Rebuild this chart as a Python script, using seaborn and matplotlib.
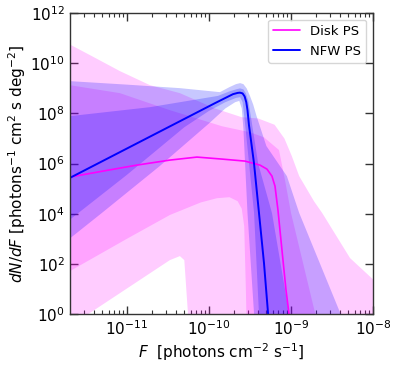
import numpy as np
import pandas as pd
import matplotlib
matplotlib.use("Agg")
import matplotlib.pyplot as plt
import matplotlib.ticker as mticker
import seaborn as sns

# ---- data (log10 F, log10 dN/dF) ----
disk_med_logF = [-11.70, -11.293, -10.878, -10.476, -10.146, -9.841, -9.561, -9.378, -9.293, -9.232,
                 -9.195, -9.159, -9.110, -9.061, -9.024, -9.00]
disk_med_logN = [5.46, 5.70, 5.94, 6.14, 6.26, 6.18, 6.10, 5.94, 5.78, 5.50,
                 5.10, 4.15, 2.55, 0.96, 0.0, -1.0]

nfw_med_logF = [-11.70, -9.927, -9.805, -9.707, -9.650, -9.622, -9.590, -9.565, -9.545, -9.530, -9.512,
                -9.451, -9.390, -9.329, -9.280, -9.268]
nfw_med_logN = [5.42, 8.41, 8.61, 8.77, 8.82, 8.83, 8.80, 8.68, 8.45, 8.13, 7.53,
                6.02, 4.03, 2.03, 0.04, -0.6]

# Disk PS 95% band
disk95_up_logF = [-11.70, -11.451, -11.085, -10.72, -10.354, -9.927, -9.6, -9.4, -9.2, -9.08,
                  -8.99, -8.90, -8.72, -8.62, -8.28, -7.99, -7.9]
disk95_up_logN = [10.76, 10.33, 9.69, 9.13, 8.81, 8.2, 7.85, 7.8, 7.55, 7.0,
                  6.3, 5.5, 4.5, 4.03, 2.23, 1.35, 1.0]
disk95_lo_logF = [-11.70, -11.451, -10.476, -10.354, -10.30, -10.256, -10.25, -7.9]
disk95_lo_logN = [-0.5, 0.04, 2.15, 2.31, 2.15, 0.04, -1.0, -1.0]

# Disk PS 68% band
disk68_up_logF = [-11.70, -11.085, -10.476, -9.841, -9.5, -9.33, -9.146, -9.073, -9.0, -8.707, -8.6]
disk68_up_logN = [9.13, 8.81, 8.13, 7.49, 7.25, 7.05, 6.54, 5.34, 4.03, 0.04, -0.5]
disk68_lo_logF = [-11.70, -11.0, -10.476, -10.1, -9.902, -9.75, -9.65, -9.60, -9.57, -9.55, -9.54]
disk68_lo_logN = [1.70, 3.0, 3.95, 4.45, 4.62, 4.66, 4.5, 4.2, 3.5, 1.0, -0.5]

# NFW PS 95% band
nfw95_up_logF = [-11.70, -11.0, -10.354, -9.866, -9.75, -9.67, -9.62, -9.58, -9.54, -9.50,
                 -9.46, -9.42, -9.30, -9.05, -8.90, -8.40, -8.30]
nfw95_up_logN = [9.29, 9.15, 9.01, 8.85, 9.05, 9.17, 9.21, 9.17, 9.0, 8.7,
                 8.35, 7.9, 6.7, 5.5, 4.03, 0.04, -0.5]
nfw95_lo_logF = [-11.70, -11.305, -10.6, -10.0, -9.8, -9.68, -9.63, -9.60, -9.58, -9.53, -9.45, -9.44]
nfw95_lo_logN = [3.0, 4.03, 5.9, 7.6, 8.2, 8.45, 8.5, 8.2, 7.4, 4.03, 0.0, -0.5]

# NFW PS 68% band
nfw68_up_logF = [-11.70, -10.72, -9.89, -9.75, -9.66, -9.62, -9.58, -9.55, -9.52, -9.49, -9.40, -9.232,
                 -9.024, -9.0]
nfw68_up_logN = [7.89, 8.25, 8.70, 8.88, 8.97, 9.0, 8.96, 8.8, 8.5, 7.9, 6.0, 4.03,
                 0.04, -0.5]
nfw68_lo_logF = [-11.70, -11.0, -10.3, -10.0, -9.8, -9.67, -9.62, -9.59, -9.56, -9.45, -9.39, -9.385]
nfw68_lo_logN = [3.75, 5.55, 7.45, 8.1, 8.45, 8.62, 8.65, 8.45, 7.6, 4.03, 0.0, -0.5]

xtick_exps = [-11, -10, -9, -8]
ytick_exps = [0, 2, 4, 6, 8, 10, 12]
xlim_exps = (-11.695, -8.0)
ylim_exps = (0, 12)

DISK_C = "#ff00ff"
NFW_C = "#0000ff"

sns.set_style("ticks")
plt.rcParams["font.family"] = ["DejaVu Sans"]
plt.rcParams["text.color"] = "black"
plt.rcParams["axes.labelcolor"] = "black"
plt.rcParams["xtick.color"] = "black"
plt.rcParams["ytick.color"] = "black"

fig = plt.figure(figsize=(3.99, 3.66), dpi=100)
ax = fig.add_axes([0.175, 0.142, 0.760, 0.822])
ax.set_xscale("log")
ax.set_yscale("log")


def band(ax, upF, upN, loF, loN, color, alpha):
    xs = np.concatenate([np.power(10.0, upF), np.power(10.0, loF)[::-1]])
    ys = np.concatenate([np.power(10.0, upN), np.power(10.0, loN)[::-1]])
    ax.fill(xs, ys, color=color, alpha=alpha, lw=0)


band(ax, disk95_up_logF, disk95_up_logN, disk95_lo_logF, disk95_lo_logN, DISK_C, 0.2)
band(ax, disk68_up_logF, disk68_up_logN, disk68_lo_logF, disk68_lo_logN, DISK_C, 0.2)
band(ax, nfw95_up_logF, nfw95_up_logN, nfw95_lo_logF, nfw95_lo_logN, NFW_C, 0.22)
band(ax, nfw68_up_logF, nfw68_up_logN, nfw68_lo_logF, nfw68_lo_logN, NFW_C, 0.22)

disk_df = pd.DataFrame({"F": np.power(10.0, disk_med_logF), "dNdF": np.power(10.0, disk_med_logN)})
nfw_df = pd.DataFrame({"F": np.power(10.0, nfw_med_logF), "dNdF": np.power(10.0, nfw_med_logN)})
sns.lineplot(data=disk_df, x="F", y="dNdF", ax=ax, color=DISK_C, lw=1.2,
             estimator=None, sort=False, label="Disk PS")
sns.lineplot(data=nfw_df, x="F", y="dNdF", ax=ax, color=NFW_C, lw=1.4,
             estimator=None, sort=False, label="NFW PS")

ax.set_xlim(10 ** xlim_exps[0], 10 ** xlim_exps[1])
ax.set_ylim(10.0 ** ylim_exps[0], 10.0 ** ylim_exps[1])

ax.xaxis.set_major_locator(mticker.FixedLocator([10.0 ** e for e in xtick_exps]))
ax.xaxis.set_minor_locator(mticker.LogLocator(base=10, subs=np.arange(2, 10), numticks=20))
ax.yaxis.set_major_locator(mticker.FixedLocator([10.0 ** e for e in ytick_exps]))
ax.yaxis.set_minor_locator(mticker.NullLocator())
ax.xaxis.set_major_formatter(mticker.LogFormatterSciNotation())
ax.yaxis.set_major_formatter(mticker.LogFormatterSciNotation())

ax.tick_params(which="both", direction="in", top=True, right=True, labelsize=11,
               color="0.2", labelcolor="black")
ax.tick_params(which="major", length=6, width=1.0)
ax.tick_params(which="minor", length=3, width=0.8)
for s in ax.spines.values():
    s.set_color("0.2")
    s.set_linewidth(1.0)

ax.set_xlabel(r"$F$  [photons cm$^{-2}$ s$^{-1}$]", fontsize=11, labelpad=3, color="black")
ax.set_ylabel(r"$dN/dF$ [photons$^{-1}$ cm$^2$ s deg$^{-2}$]", fontsize=11, labelpad=2, color="black")

leg = ax.legend(loc="upper right", fontsize=9.5, frameon=True, fancybox=True,
                framealpha=0.8, edgecolor="0.8", handlelength=2.0)
for t in leg.get_texts():
    t.set_color("black")

fig.savefig("out.png", dpi=100)
